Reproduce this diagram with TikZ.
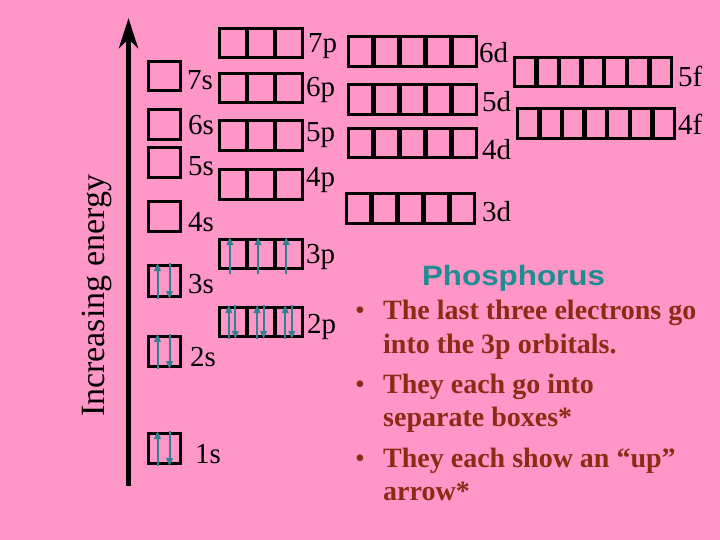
\documentclass[tikz,border=0pt]{standalone}
\usepackage{fontspec}
\usepackage{graphicx}
\setmainfont{Liberation Serif}
\newfontfamily\phosfont{Liberation Sans}
\usetikzlibrary{arrows.meta}
\definecolor{bgpink}{RGB}{255,150,200}
\definecolor{eteal}{RGB}{46,130,145}
\definecolor{titleteal}{RGB}{30,140,145}
\definecolor{txtbrown}{RGB}{140,42,20}
% name, x0 (outer left), y0 (outer top), n, w, h  (outer sizes of one box)
\newcommand{\orbrow}[6]{%
  \foreach \k in {1,...,#4}{%
    \node[obox, minimum width=#5pt-3pt, minimum height=#6pt-3pt] (#1-\k) at ({#2+(\k-1)*(#5-1.5)},#3) {};
  }}
\begin{document}
\begin{tikzpicture}[x=1pt,y=-1pt,
  obox/.style={draw=black, line width=3pt, inner sep=0pt, anchor=north west},
  lbl/.style={anchor=base west, inner sep=0pt, font=\fontsize{29}{30}\selectfont},
  eup/.style={draw=eteal, line width=2pt, -{Triangle[length=8pt,width=6.5pt]}},
  btxt/.style={anchor=base west, inner sep=0pt, text=txtbrown, font=\bfseries\fontsize{28}{30}\selectfont},
  bdot/.style={anchor=base west, inner sep=0pt, text=txtbrown, font=\fontsize{28}{30}\selectfont}]
\fill[bgpink] (0,0) rectangle (720,540);
\useasboundingbox (0,0) rectangle (720,540);

% energy axis
\coordinate (axbot) at (128.5,486);
\coordinate (axtop) at (128.5,18);
\draw[line width=5pt, -{Stealth[length=30pt, width=19pt, inset=9pt]}] (axbot) -- (axtop);
\node[rotate=90, inner sep=0pt, font=\fontsize{34}{36}\selectfont] (ie) at (97,296) {Increasing energy};

% s orbitals
\orbrow{s7}{147}{60}{1}{35}{32}
\orbrow{s6}{147}{108}{1}{35}{33}
\orbrow{s5}{147}{146}{1}{35}{33}
\orbrow{s4}{147}{200}{1}{35}{33}
\orbrow{s3}{147}{264}{1}{35}{34}
\orbrow{s2}{147}{335}{1}{35}{33}
\orbrow{s1}{147}{432}{1}{35}{33}
\node[lbl] (l7s) at (187,90) {7s};
\node[lbl] (l6s) at (188,135) {6s};
\node[lbl] (l5s) at (188,176) {5s};
\node[lbl] (l4s) at (188,231) {4s};
\node[lbl] (l3s) at (188,293) {3s};
\node[lbl] (l2s) at (190,366) {2s};
\node[lbl] (l1s) at (195,463) {1s};

% p orbitals
\orbrow{p7}{218}{27}{3}{29.7}{32}
\orbrow{p6}{218}{72}{3}{29.7}{32}
\orbrow{p5}{218}{119}{3}{29.7}{33}
\orbrow{p4}{218}{168}{3}{29.7}{33}
\orbrow{p3}{218}{238}{3}{29.7}{32}
\orbrow{p2}{218}{306}{3}{29.7}{32}
\node[lbl] (l7p) at (308,53) {7p};
\node[lbl] (l6p) at (306,97) {6p};
\node[lbl] (l5p) at (306,142) {5p};
\node[lbl] (l4p) at (306,187) {4p};
\node[lbl] (l3p) at (306,263) {3p};
\node[lbl] (l2p) at (307,333) {2p};

% d orbitals
\orbrow{d6}{347}{35}{5}{27.4}{33}
\orbrow{d5}{347}{83}{5}{27.4}{33}
\orbrow{d4}{347}{127}{5}{27.4}{32}
\orbrow{d3}{345}{192}{5}{27.4}{33}
\node[lbl] (l6d) at (479,63) {6d};
\node[lbl] (l5d) at (482,112) {5d};
\node[lbl] (l4d) at (482,160) {4d};
\node[lbl] (l3d) at (482,222) {3d};

% f orbitals
\orbrow{f5}{513}{56}{7}{24.1}{32}
\orbrow{f4}{516}{107}{7}{24.1}{33}
\node[lbl] (l5f) at (678,87) {5f};
\node[lbl] (l4f) at (678,135) {4f};

% electrons
\foreach \b in {s1-1,s2-1,s3-1}{
  \draw[eup] ([xshift=-7pt,yshift=-1pt]\b.south) -- ([xshift=-7pt,yshift=1pt]\b.north);
  \draw[eup] ([xshift=5pt,yshift=1pt]\b.north) -- ([xshift=5pt,yshift=-1pt]\b.south);
}
\foreach \b in {p2-1,p2-2,p2-3}{
  \draw[eup] ([xshift=-4pt,yshift=-1pt]\b.south) -- ([xshift=-4pt,yshift=1pt]\b.north);
  \draw[eup] ([xshift=2.5pt,yshift=1pt]\b.north) -- ([xshift=2.5pt,yshift=-1pt]\b.south);
}
\foreach \b in {p3-1,p3-2,p3-3}{
  \draw[eup] ([xshift=-3pt,yshift=-4pt]\b.south) -- ([xshift=-3pt,yshift=1pt]\b.north);
}

% text
\node[inner sep=0pt, anchor=base, text=titleteal, font=\phosfont\bfseries\fontsize{28}{30}\selectfont] (title) at (513.5,285) {\scalebox{1.12}[1]{Phosphorus}};
\node[bdot] (d1) at (355,319) {•};
\node[btxt] (b1a) at (383,319) {The last three electrons go};
\node[btxt] (b1b) at (383,353) {into the 3p orbitals.};
\node[bdot] (d2) at (355,393) {•};
\node[btxt] (b2a) at (383,393) {They each go into};
\node[btxt] (b2b) at (383,426) {separate boxes*};
\node[bdot] (d3) at (355,467) {•};
\node[btxt] (b3a) at (383,467) {They each show an “up”};
\node[btxt] (b3b) at (383,500) {arrow*};
\end{tikzpicture}
\end{document}
